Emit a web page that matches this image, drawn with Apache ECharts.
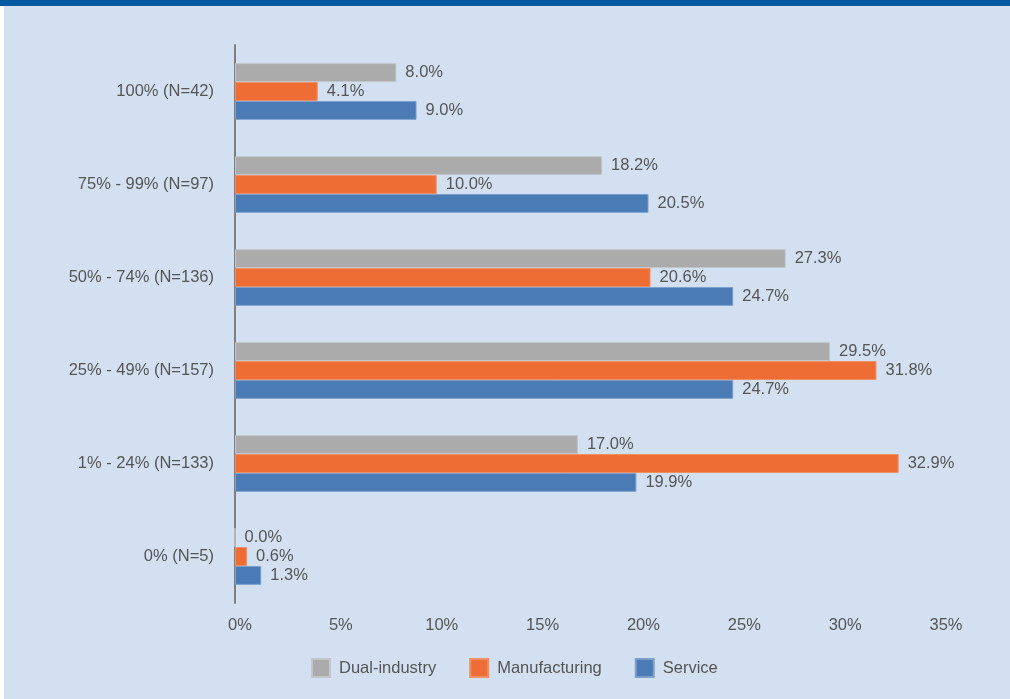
<!DOCTYPE html>
<html>
<head>
<meta charset="utf-8">
<script src="https://cdn.jsdelivr.net/npm/echarts@6/dist/echarts.min.js"></script>
<style>
  html, body { margin: 0; padding: 0; background: #ffffff; }
  #chart { width: 1010px; height: 699px; }
</style>
</head>
<body>
<div id="chart"></div>
<script>
// Share of workforce groups, by industry type
const categories = [
  '100% (N=42)',
  '75% - 99% (N=97)',
  '50% - 74% (N=136)',
  '25% - 49% (N=157)',
  '1% - 24% (N=133)',
  '0% (N=5)'
];
const dualIndustry = [8.0, 18.2, 27.3, 29.5, 17.0, 0.0];
const manufacturing = [4.1, 10.0, 20.6, 31.8, 32.9, 0.6];
const service = [9.0, 20.5, 24.7, 24.7, 19.9, 1.3];
const seriesNames = ['Dual-industry', 'Manufacturing', 'Service'];

const FONT = '"Liberation Sans", Arial, sans-serif';
const TEXT = '#555555';
const SIZE = 16.5;

const chart = echarts.init(document.getElementById('chart'), null, { renderer: 'canvas' });

function barSeries(name, data, color, border) {
  return {
    name: name,
    type: 'bar',
    data: data,
    barGap: '0%',
    barCategoryGap: '39%',
    itemStyle: { color: color, borderColor: border, borderWidth: 1 },
    label: {
      show: true,
      position: 'right',
      distance: 9,
      color: TEXT,
      fontFamily: FONT,
      fontSize: SIZE,
      formatter: p => p.value.toFixed(1) + '%'
    }
  };
}

chart.setOption({
  animation: false,
  backgroundColor: '#d3e0f2',
  graphic: [
    { type: 'rect', left: 0, top: 0, shape: { width: 1010, height: 6 }, style: { fill: '#0059a1' } },
    { type: 'rect', left: 0, top: 6, shape: { width: 4, height: 693 }, style: { fill: '#ffffff' } }
  ],
  grid: { left: 235, right: 69, top: 45, bottom: 96 },
  legend: {
    left: 306,
    top: 653,
    icon: 'rect',
    itemWidth: 18,
    itemHeight: 18,
    itemGap: 33,
    textStyle: { color: TEXT, fontFamily: FONT, fontSize: SIZE, padding: [0, 0, 0, 4] },
    data: seriesNames
  },
  xAxis: {
    type: 'value',
    min: 0,
    max: 35,
    interval: 5,
    axisLine: { show: false },
    axisTick: { show: false },
    splitLine: { show: false },
    axisLabel: {
      color: TEXT,
      fontFamily: FONT,
      fontSize: SIZE,
      margin: 14,
      padding: [0, 0, 0, 10],
      formatter: v => v + '%'
    }
  },
  yAxis: {
    type: 'category',
    inverse: true,
    data: categories,
    axisLine: { show: true, lineStyle: { color: '#7f7f7f', width: 2 } },
    axisTick: { show: false },
    axisLabel: { color: TEXT, fontFamily: FONT, fontSize: SIZE, margin: 21 }
  },
  series: [
    barSeries(seriesNames[0], dualIndustry, '#aaabaa', '#c3c6c9'),
    barSeries(seriesNames[1], manufacturing, '#ee6d35', '#f08f64'),
    barSeries(seriesNames[2], service, '#4a7bb5', '#7d9fcc')
  ]
});
</script>
</body>
</html>
